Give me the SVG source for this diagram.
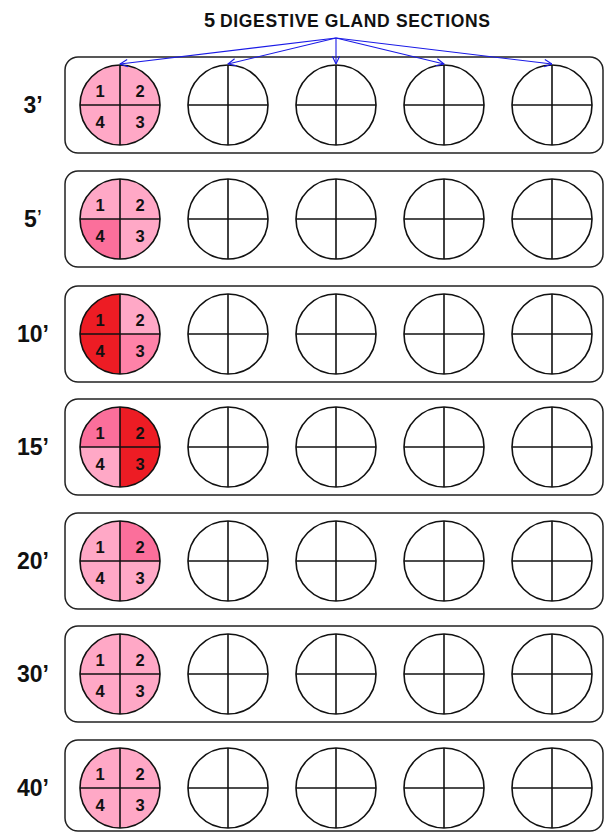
<svg xmlns="http://www.w3.org/2000/svg" width="606" height="832" viewBox="0 0 606 832">
<style>
.box{fill:#fff;stroke:#222;stroke-width:1.5}
.c{fill:none;stroke:#111;stroke-width:1.6}
.x{stroke:#111;stroke-width:1.6}
.lbl{font-family:"Liberation Sans",Arial,sans-serif;font-weight:bold;font-size:23px;fill:#111;text-anchor:middle}
.d{font-family:"Liberation Sans",Arial,sans-serif;font-weight:bold;font-size:16.5px;fill:#111;text-anchor:middle}
.title{font-family:"Liberation Sans",Arial,sans-serif;font-weight:bold;fill:#111}
.arr{stroke:#1a1ae6;stroke-width:1.1;fill:none}
.lp{fill:#ffa8c6}.mp{fill:#fb6f9b}.pp{fill:#ff82a8}.rd{fill:#ed1c24}
</style>
<defs>
<marker id="ah" viewBox="0 0 10 10" refX="9.5" refY="5" markerWidth="9" markerHeight="9" markerUnits="userSpaceOnUse" orient="auto">
<path d="M1,1 L9.5,5 L1,9" fill="none" stroke="#1a1ae6" stroke-width="1.2"/>
</marker>
<g id="sec">
<circle class="c" cx="0" cy="0" r="40"/>
<line class="x" x1="-40" y1="0" x2="40" y2="0"/>
<line class="x" x1="0" y1="-40" x2="0" y2="40"/>
</g>
<g id="blank">
<use href="#sec" x="228"/>
<use href="#sec" x="336"/>
<use href="#sec" x="444"/>
<use href="#sec" x="552"/>
</g>
</defs>

<g id="title">
<text class="title" y="27"><tspan x="204" font-size="20">5</tspan><tspan x="220" font-size="17.5" textLength="270" lengthAdjust="spacing">DIGESTIVE GLAND SECTIONS</tspan></text>
</g>

<g id="row1" transform="translate(0,105)">
<rect class="box" x="65" y="-48" width="538" height="96" rx="13"/>
<text class="lbl" x="33" y="8">3’</text>
<path class="lp" d="M120,0 L120,-40 A40,40 0 0 0 80,0 Z"/>
<path class="lp" d="M120,0 L160,0 A40,40 0 0 0 120,-40 Z"/>
<path class="lp" d="M120,0 L120,40 A40,40 0 0 0 160,0 Z"/>
<path class="lp" d="M120,0 L80,0 A40,40 0 0 0 120,40 Z"/>
<use href="#sec" x="120"/>
<text class="d" x="100" y="-8">1</text><text class="d" x="140" y="-8">2</text>
<text class="d" x="100" y="23">4</text><text class="d" x="140" y="23">3</text>
<use href="#blank"/>
</g>

<g id="row2" transform="translate(0,219)">
<rect class="box" x="65" y="-48" width="538" height="96" rx="13"/>
<text class="lbl" x="33" y="8">5<tspan font-weight="normal">’</tspan></text>
<path class="lp" d="M120,0 L120,-40 A40,40 0 0 0 80,0 Z"/>
<path class="lp" d="M120,0 L160,0 A40,40 0 0 0 120,-40 Z"/>
<path class="lp" d="M120,0 L120,40 A40,40 0 0 0 160,0 Z"/>
<path class="mp" d="M120,0 L80,0 A40,40 0 0 0 120,40 Z"/>
<use href="#sec" x="120"/>
<text class="d" x="100" y="-8">1</text><text class="d" x="140" y="-8">2</text>
<text class="d" x="100" y="23">4</text><text class="d" x="140" y="23">3</text>
<use href="#blank"/>
</g>

<g id="row3" transform="translate(0,334)">
<rect class="box" x="65" y="-48" width="538" height="96" rx="13"/>
<text class="lbl" x="33" y="8">10’</text>
<path class="rd" d="M120,0 L120,-40 A40,40 0 0 0 80,0 Z"/>
<path class="lp" d="M120,0 L160,0 A40,40 0 0 0 120,-40 Z"/>
<path class="pp" d="M120,0 L120,40 A40,40 0 0 0 160,0 Z"/>
<path class="rd" d="M120,0 L80,0 A40,40 0 0 0 120,40 Z"/>
<use href="#sec" x="120"/>
<text class="d" x="100" y="-8">1</text><text class="d" x="140" y="-8">2</text>
<text class="d" x="100" y="23">4</text><text class="d" x="140" y="23">3</text>
<use href="#blank"/>
</g>

<g id="row4" transform="translate(0,447)">
<rect class="box" x="65" y="-48" width="538" height="96" rx="13"/>
<text class="lbl" x="33" y="8">15’</text>
<path class="mp" d="M120,0 L120,-40 A40,40 0 0 0 80,0 Z"/>
<path class="rd" d="M120,0 L160,0 A40,40 0 0 0 120,-40 Z"/>
<path class="rd" d="M120,0 L120,40 A40,40 0 0 0 160,0 Z"/>
<path class="lp" d="M120,0 L80,0 A40,40 0 0 0 120,40 Z"/>
<use href="#sec" x="120"/>
<text class="d" x="100" y="-8">1</text><text class="d" x="140" y="-8">2</text>
<text class="d" x="100" y="23">4</text><text class="d" x="140" y="23">3</text>
<use href="#blank"/>
</g>

<g id="row5" transform="translate(0,561)">
<rect class="box" x="65" y="-48" width="538" height="96" rx="13"/>
<text class="lbl" x="33" y="8">20’</text>
<path class="lp" d="M120,0 L120,-40 A40,40 0 0 0 80,0 Z"/>
<path class="mp" d="M120,0 L160,0 A40,40 0 0 0 120,-40 Z"/>
<path class="lp" d="M120,0 L120,40 A40,40 0 0 0 160,0 Z"/>
<path class="lp" d="M120,0 L80,0 A40,40 0 0 0 120,40 Z"/>
<use href="#sec" x="120"/>
<text class="d" x="100" y="-8">1</text><text class="d" x="140" y="-8">2</text>
<text class="d" x="100" y="23">4</text><text class="d" x="140" y="23">3</text>
<use href="#blank"/>
</g>

<g id="row6" transform="translate(0,674)">
<rect class="box" x="65" y="-48" width="538" height="96" rx="13"/>
<text class="lbl" x="33" y="8">30’</text>
<circle class="lp" cx="120" cy="0" r="40"/>
<use href="#sec" x="120"/>
<text class="d" x="100" y="-8">1</text><text class="d" x="140" y="-8">2</text>
<text class="d" x="100" y="23">4</text><text class="d" x="140" y="23">3</text>
<use href="#blank"/>
</g>

<g id="row7" transform="translate(0,788)">
<rect class="box" x="65" y="-48" width="538" height="91" rx="13"/>
<text class="lbl" x="33" y="8">40’</text>
<circle class="lp" cx="120" cy="0" r="40"/>
<use href="#sec" x="120"/>
<text class="d" x="100" y="-8">1</text><text class="d" x="140" y="-8">2</text>
<text class="d" x="100" y="23">4</text><text class="d" x="140" y="23">3</text>
<use href="#blank"/>
</g>

<g id="connectors">
<line class="arr" x1="336" y1="38" x2="120" y2="64" marker-end="url(#ah)"/>
<line class="arr" x1="336" y1="38" x2="228" y2="64" marker-end="url(#ah)"/>
<line class="arr" x1="336" y1="38" x2="336" y2="64" marker-end="url(#ah)"/>
<line class="arr" x1="336" y1="38" x2="444" y2="64" marker-end="url(#ah)"/>
<line class="arr" x1="336" y1="38" x2="552" y2="64" marker-end="url(#ah)"/>
</g>
</svg>
